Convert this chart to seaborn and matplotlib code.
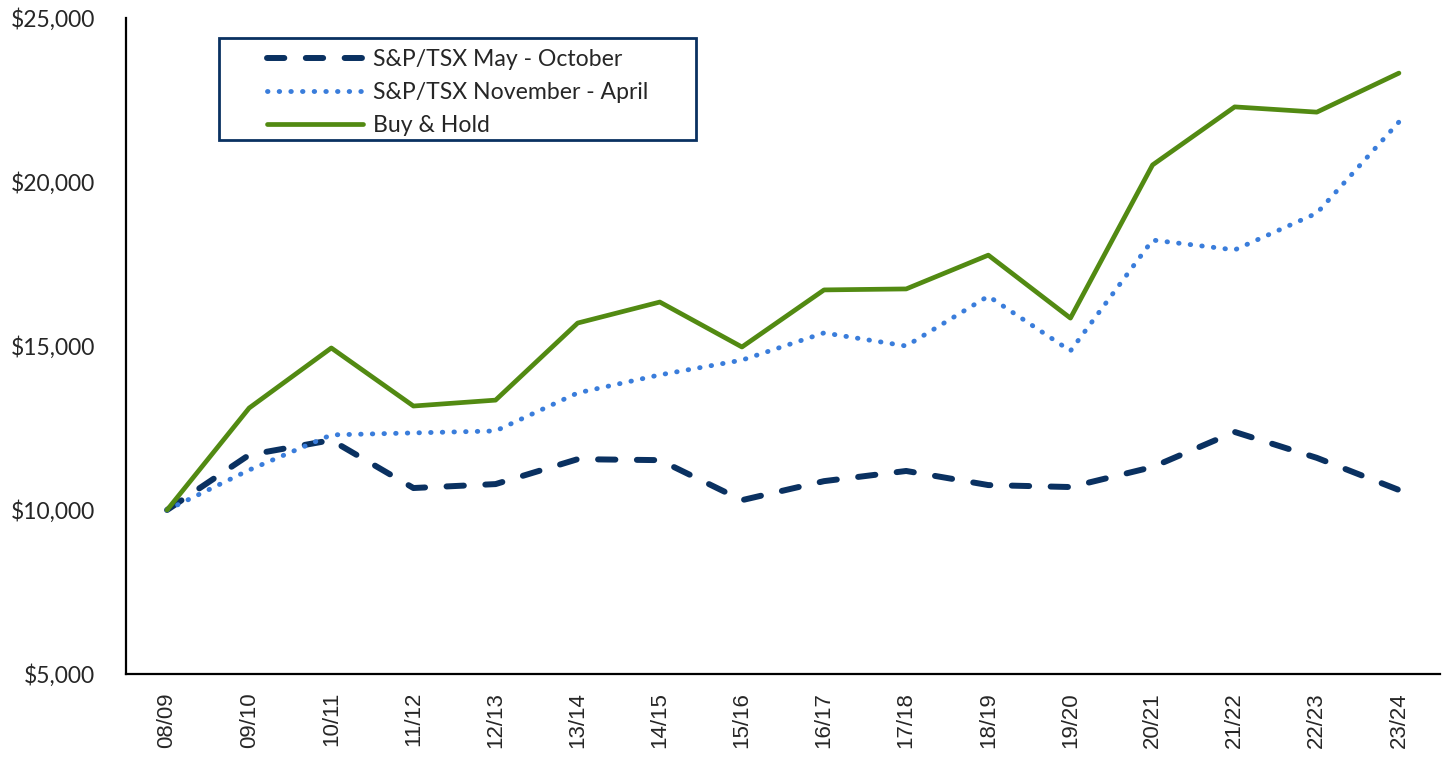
import pandas as pd
import matplotlib
matplotlib.use('Agg')
import matplotlib.pyplot as plt
import seaborn as sns
from matplotlib.patches import Rectangle
from matplotlib.ticker import FuncFormatter

# ── Data ──────────────────────────────────────────────────────────
years = ['08/09', '09/10', '10/11', '11/12', '12/13', '13/14', '14/15', '15/16',
         '16/17', '17/18', '18/19', '19/20', '20/21', '21/22', '22/23', '23/24']

may_oct = [10000, 11680, 12130, 10670, 10790, 11550, 11520, 10300,
           10880, 11190, 10760, 10700, 11310, 12380, 11590, 10610]
nov_apr = [10000, 11220, 12290, 12350, 12410, 13570, 14120, 14570,
           15400, 15000, 16520, 14850, 18230, 17930, 19050, 21830]
buy_hold = [10000, 13110, 14940, 13170, 13350, 15700, 16340, 14970,
            16710, 16740, 17770, 15850, 20520, 22290, 22130, 23320]

series_names = ['S&P/TSX May - October', 'S&P/TSX November - April', 'Buy & Hold']
y_ticks = [5000, 10000, 15000, 20000, 25000]

df = pd.DataFrame({'year': years,
                   series_names[0]: may_oct,
                   series_names[1]: nov_apr,
                   series_names[2]: buy_hold})
long = df.melt(id_vars='year', var_name='series', value_name='value')
long['x'] = long['year'].map({y: i for i, y in enumerate(years)})

# ── Style ─────────────────────────────────────────────────────────
sns.set_style('white')
plt.rcParams['font.family'] = ['Lato', 'DejaVu Sans']

navy = '#0A3161'
colors = {series_names[0]: navy,
          series_names[1]: '#3A7DDB',
          series_names[2]: '#528A12'}

fig = plt.figure(figsize=(14.45, 7.61), dpi=100)
ax = fig.add_axes([126 / 1445, 1 - 674 / 761, (1440 - 126) / 1445, (674 - 18) / 761])

for name in series_names:
    d = long[long['series'] == name]
    sns.lineplot(data=d, x='x', y='value', ax=ax, color=colors[name],
                 label=name, sort=False, estimator=None)

lines = ax.get_lines()
lines[0].set_linewidth(4.3)
lines[0].set_dashes([2.9, 3.6])
lines[0].set_dash_capstyle('round')
lines[1].set_linewidth(3.5)
lines[1].set_dashes([0.1, 2.3])
lines[1].set_dash_capstyle('round')
lines[2].set_linewidth(3.4)
lines[2].set_solid_capstyle('round')

ax.set_xlim(-0.5, 15.5)
ax.set_ylim(5000, 25000)
ax.set_yticks(y_ticks)
ax.yaxis.set_major_formatter(FuncFormatter(lambda v, p: f'${v:,.0f}'))
ax.set_xticks(range(len(years)))
ax.set_xticklabels(years, rotation=90, family='Liberation Sans', fontsize=16)
ax.tick_params(axis='y', labelsize=16.5, length=0, pad=22)
ax.tick_params(axis='x', length=0, pad=13)
ax.set_xlabel('')
ax.set_ylabel('')

for s in ['top', 'right']:
    ax.spines[s].set_visible(False)
for s in ['left', 'bottom']:
    ax.spines[s].set_color('black')
    ax.spines[s].set_linewidth(1.6)

# legend box (Excel-style fixed frame) + frameless legend inside it
box = Rectangle((0.0708, 0.814), 0.363, 0.1555, transform=ax.transAxes,
                facecolor='white', edgecolor=navy, linewidth=2, zorder=4)
ax.add_patch(box)

leg = ax.legend(loc='upper left', bbox_to_anchor=(0.1073, 0.9520),
                fontsize=16.6, handlelength=4.16, handletextpad=0.43,
                labelspacing=0.52, borderpad=0, borderaxespad=0,
                frameon=False)
leg.set_zorder(5)

plt.savefig('out.png', dpi=100)
plt.close()
